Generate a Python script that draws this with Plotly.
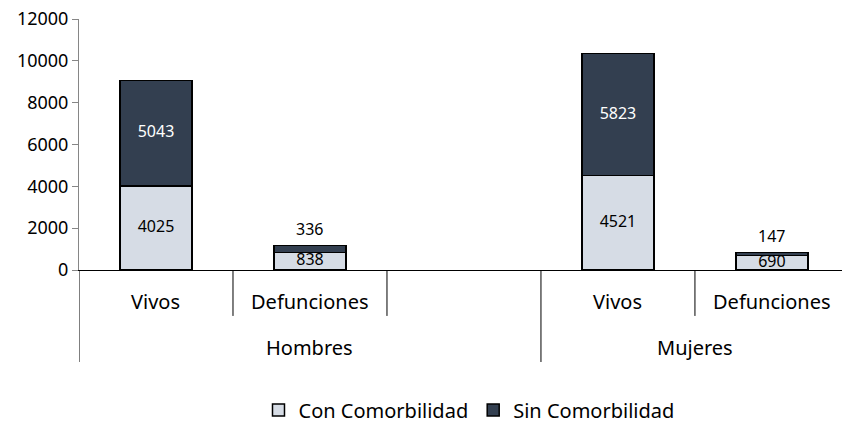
import plotly.graph_objects as go

# ---- data ----
groups = ["Hombres", "Hombres", "Hombres", "Mujeres", "Mujeres"]
subcats = ["Vivos", "Defunciones", "", "Vivos", "Defunciones"]
con_comorb = [4025, 838, None, 4521, 690]
sin_comorb = [5043, 336, None, 5823, 147]
y_ticks = [0, 2000, 4000, 6000, 8000, 10000, 12000]
y_ticktext = ["0", "2000", "4000", "6000", "8000", "10000", "12000"]
series_names = ["Con Comorbilidad", "Sin Comorbilidad"]

LIGHT = "#D6DCE5"
DARK = "#333F50"
FONT = "Noto Sans"

x = list(range(len(subcats)))
fig = go.Figure()

fig.add_trace(go.Bar(x=x, y=con_comorb, name=series_names[0], width=0.47,
                     marker=dict(color=LIGHT, line=dict(color="black", width=1.5)),
                     hoverinfo="skip"))
fig.add_trace(go.Bar(x=x, y=sin_comorb, name=series_names[1], width=0.47,
                     marker=dict(color=DARK, line=dict(color="black", width=1.5)),
                     hoverinfo="skip"))

annotations = []
# value labels
lx_in, ly_in, lt_in, lc_in = [], [], [], []
for i, (c, s) in enumerate(zip(con_comorb, sin_comorb)):
    if c is None:
        continue
    lx_in.append(i); ly_in.append(c / 2); lt_in.append(str(c)); lc_in.append("black")
    if s > 1000:
        lx_in.append(i); ly_in.append(c + s / 2); lt_in.append(str(s)); lc_in.append("white")
    else:
        annotations.append(dict(x=i, y=c + s, xref="x", yref="y", text=str(s), showarrow=False,
                                font=dict(family=FONT, size=16, color="black"),
                                xanchor="center", yanchor="bottom", yshift=3))

fig.add_trace(go.Scatter(x=lx_in, y=ly_in, text=lt_in, mode="text",
                         textfont=dict(family=FONT, size=16, color=lc_in),
                         showlegend=False, hoverinfo="skip"))

# category axis drawing
shapes = []
n = len(subcats)
SHORT = -0.183
LONG = -0.3665
for b in range(n + 1):
    bx = b - 0.5
    left = groups[b - 1] if b > 0 else None
    right = groups[b] if b < n else None
    y1 = LONG if (left != right) else SHORT
    shapes.append(dict(type="line", xref="x", yref="paper", x0=bx, x1=bx, y0=0, y1=y1,
                       line=dict(color="black", width=1)))
for i, s in enumerate(subcats):
    if s:
        annotations.append(dict(x=i, y=-0.127, xref="x", yref="paper", text=s, showarrow=False,
                                font=dict(family=FONT, size=20, color="black"),
                                xanchor="center", yanchor="middle"))
seen = []
for g in groups:
    if g not in seen:
        seen.append(g)
for g in seen:
    idx = [i for i, gg in enumerate(groups) if gg == g]
    cx = (idx[0] - 0.5 + idx[-1] + 0.5) / 2
    annotations.append(dict(x=cx, y=-0.31, xref="x", yref="paper", text=g, showarrow=False,
                            font=dict(family=FONT, size=20, color="black"),
                            xanchor="center", yanchor="middle"))

fig.update_layout(
    barmode="stack",
    width=842, height=424,
    margin=dict(l=79, r=0, t=19, b=154, autoexpand=False),
    plot_bgcolor="white", paper_bgcolor="white",
    font=dict(family=FONT, size=17, color="black"),
    shapes=shapes, annotations=annotations,
    showlegend=True,
    legend=dict(orientation="h", xref="container", yref="container",
                x=0.557, y=0.033, xanchor="center", yanchor="middle",
                font=dict(family=FONT, size=20, color="black"), itemwidth=30,
                traceorder="normal"),
    xaxis=dict(range=[-0.5, 4.455], showticklabels=False, showgrid=False, zeroline=False,
               showline=True, linecolor="black", linewidth=1, ticks="", fixedrange=True,
               automargin=False),
    yaxis=dict(range=[0, 12000], tickvals=y_ticks, ticktext=y_ticktext, showgrid=False,
               zeroline=False, showline=True, linecolor="#868686", linewidth=1,
               ticks="outside", ticklen=6, tickcolor="#868686",
               tickfont=dict(family=FONT, size=18, color="black"),
               fixedrange=True, automargin=False),
)

fig.write_html("out.html", config={"displayModeBar": False},
               post_script="document.body.style.margin='0';document.body.style.overflow='hidden';")
